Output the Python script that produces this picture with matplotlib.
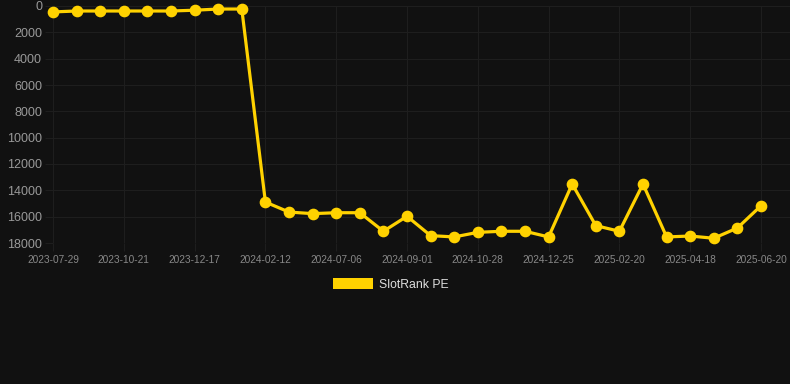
import matplotlib
matplotlib.use("Agg")
import matplotlib.pyplot as plt
from matplotlib.patches import Rectangle

dates = ["2023-07-29", "2023-08-26", "2023-09-23", "2023-10-21", "2023-11-08", "2023-11-27",
         "2023-12-17", "2024-01-05", "2024-01-24", "2024-02-12", "2024-05-10", "2024-06-08",
         "2024-07-06", "2024-07-25", "2024-08-13", "2024-09-01", "2024-09-20", "2024-10-09",
         "2024-10-28", "2024-11-16", "2024-12-05", "2024-12-25", "2025-01-13", "2025-02-01",
         "2025-02-20", "2025-03-11", "2025-03-30", "2025-04-18", "2025-05-08", "2025-05-29",
         "2025-06-20"]
rank = [450, 380, 380, 380, 380, 380, 320, 230, 230, 14890, 15650, 15770, 15700, 15700,
        17110, 15970, 17440, 17540, 17190, 17110, 17110, 17540, 13520, 16680, 17110, 13520,
        17540, 17470, 17640, 16860, 15170]
series_name = "SlotRank PE"
y_ticks = [0, 2000, 4000, 6000, 8000, 10000, 12000, 14000, 16000, 18000]

W, H, DPI = 790, 384, 100
BG = "#111111"
GRID = "#1e1e1e"
LINE = "#FFD200"

fig = plt.figure(figsize=(W / DPI, H / DPI), dpi=DPI, facecolor=BG)
left, right, top, bottom = 53, 790, 6, 243
ax = fig.add_axes([left / W, 1 - bottom / H, (right - left) / W, (bottom - top) / H])
ax.set_facecolor(BG)

x = list(range(len(dates)))
ax.plot(x, rank, color=LINE, lw=2.3, marker="o", ms=7.4, mfc=LINE, mec=LINE,
        clip_on=False, zorder=3)

px = (761 - 53) / 30
ax.set_xlim(0, (right - left) / px)
ax.set_ylim(18000, 0)
ax.set_yticks(y_ticks)
ax.set_yticklabels([str(v) for v in y_ticks], fontsize=9, color="#999999",
                   family=["Liberation Sans", "DejaVu Sans"])
tick_idx = list(range(0, len(dates), 3))
ax.set_xticks(tick_idx)
ax.set_xticklabels([dates[i] for i in tick_idx], fontsize=7.3, color="#888888",
                   family=["Liberation Sans", "DejaVu Sans"])
ax.tick_params(axis="both", length=5.8, width=0.8, color=GRID, pad=2)
ax.tick_params(axis="x", pad=3)
ax.grid(True, color=GRID, lw=0.8)
ax.set_axisbelow(True)
for s in ax.spines.values():
    s.set_visible(False)

# legend
fig.add_artist(Rectangle((333 / W, 1 - 289 / H), 40 / W, 11 / H, transform=fig.transFigure,
                         facecolor=LINE, edgecolor="none"))
fig.text(379 / W, 1 - 284.5 / H, series_name, fontsize=8.8, color="#dddddd", va="center",
         ha="left", family=["Liberation Sans", "DejaVu Sans"])

fig.savefig("out.png", dpi=DPI, facecolor=BG)
